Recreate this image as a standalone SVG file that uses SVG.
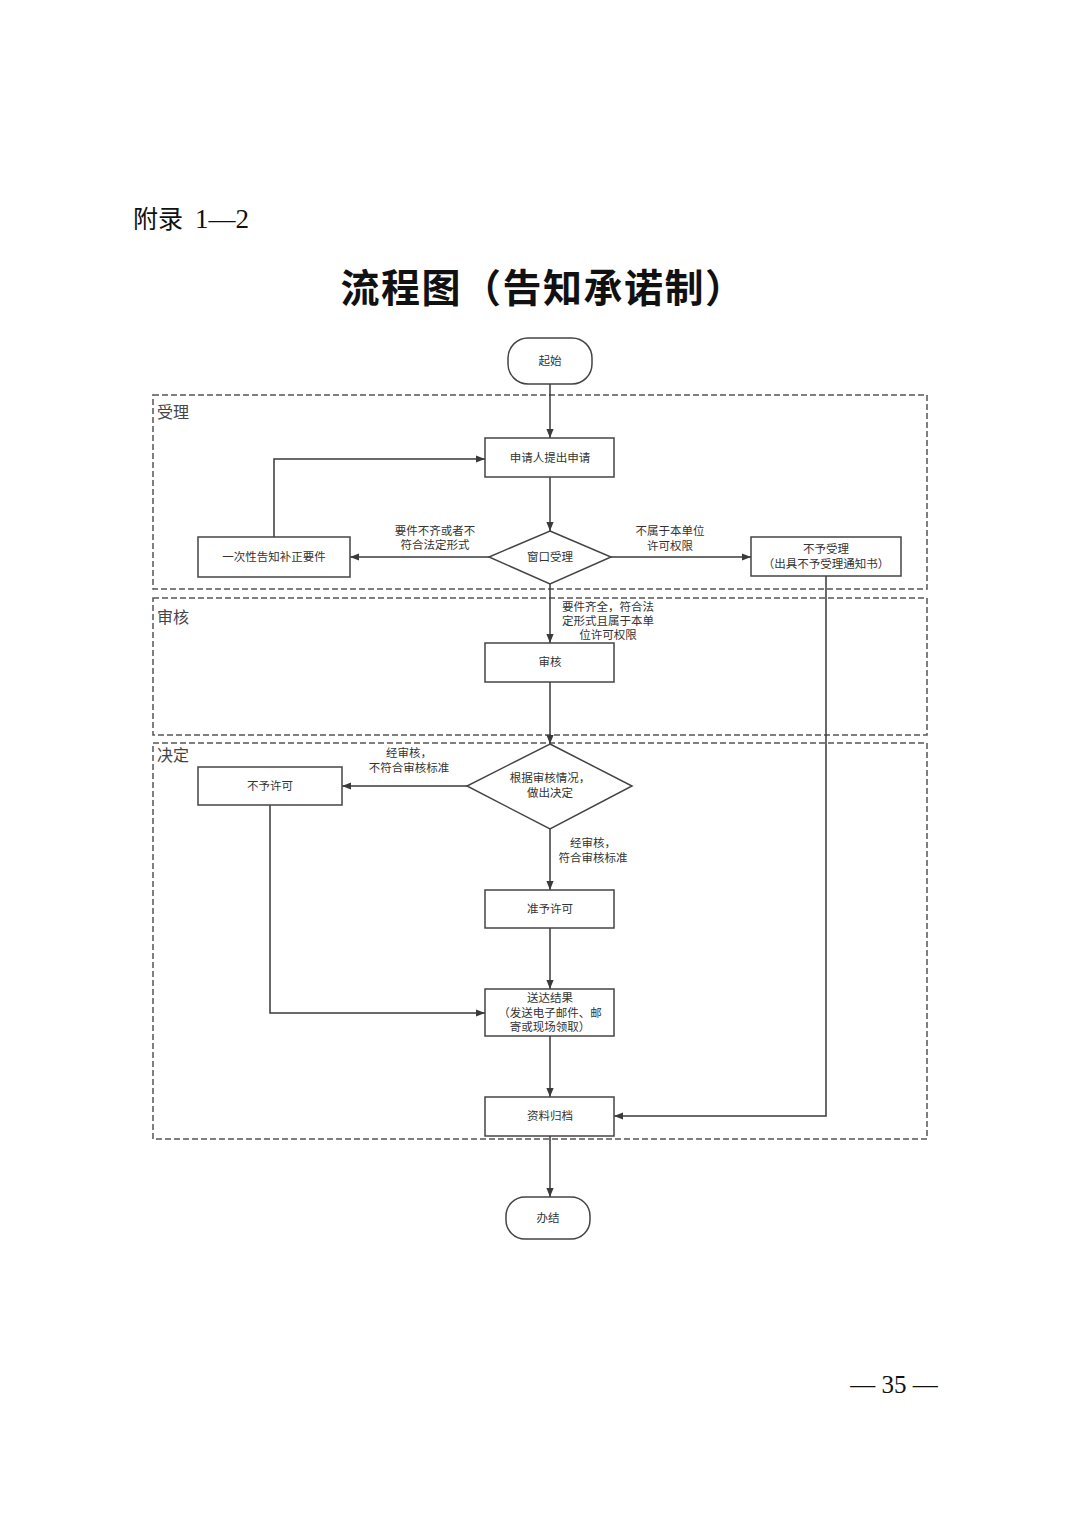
<svg xmlns="http://www.w3.org/2000/svg" width="1074" height="1520" viewBox="0 0 1074 1520">
<defs>
<marker id="arr" viewBox="0 0 10 10" refX="10" refY="5" markerWidth="9" markerHeight="9" markerUnits="userSpaceOnUse" orient="auto">
<path d="M0,1 L10,5 L0,9 z" fill="#3a3a3a"/>
</marker>
<style>
.lane{fill:none;stroke:#555;stroke-width:1.5;stroke-dasharray:6 3}
.lanet{font-family:"Noto Sans CJK SC",sans-serif;font-size:16px;fill:#444}
.box{fill:#fff;stroke:#444;stroke-width:1.5}
.t{font-family:"Noto Sans CJK SC",sans-serif;font-size:11.5px;fill:#333;text-anchor:middle}
.c{fill:none;stroke:#3a3a3a;stroke-width:1.5}
</style>
</defs>
<rect width="1074" height="1520" fill="#fff"/>
<text x="133" y="228" font-family="Noto Sans CJK SC,sans-serif" font-size="25" fill="#111">附录<tspan x="195" font-family="Liberation Serif,serif" font-size="27">1—2</tspan></text>
<text x="543" y="302" font-family="Noto Sans CJK SC,sans-serif" font-size="39" font-weight="bold" fill="#111" text-anchor="middle" letter-spacing="1.5">流程图（告知承诺制）</text>

<g id="lanes">
<rect class="lane" x="153" y="395" width="774" height="194"/>
<text class="lanet" x="157" y="418">受理</text>
<rect class="lane" x="153" y="598" width="774" height="137"/>
<text class="lanet" x="157" y="623">审核</text>
<rect class="lane" x="153" y="743" width="774" height="396"/>
<text class="lanet" x="157" y="761">决定</text>
</g>

<g id="connectors">
<path class="c" d="M550,384 V438" marker-end="url(#arr)"/>
<path class="c" d="M550,477 V531" marker-end="url(#arr)"/>
<path class="c" d="M489,557 H350" marker-end="url(#arr)"/>
<path class="c" d="M274,537 V459 H485" marker-end="url(#arr)"/>
<path class="c" d="M611,557 H751" marker-end="url(#arr)"/>
<path class="c" d="M826,576 V1116 H614" marker-end="url(#arr)"/>
<path class="c" d="M550,584 V643" marker-end="url(#arr)"/>
<path class="c" d="M550,682 V744" marker-end="url(#arr)"/>
<path class="c" d="M467,786 H342" marker-end="url(#arr)"/>
<path class="c" d="M270,805 V1013 H485" marker-end="url(#arr)"/>
<path class="c" d="M550,829 V890" marker-end="url(#arr)"/>
<path class="c" d="M550,928 V989" marker-end="url(#arr)"/>
<path class="c" d="M550,1036 V1097" marker-end="url(#arr)"/>
<path class="c" d="M550,1136 V1197" marker-end="url(#arr)"/>
<text class="t" x="435" y="535">要件不齐或者不</text>
<text class="t" x="435" y="549">符合法定形式</text>
<text class="t" x="670" y="535">不属于本单位</text>
<text class="t" x="670" y="550">许可权限</text>
<text class="t" x="608" y="611">要件齐全，符合法</text>
<text class="t" x="608" y="625">定形式且属于本单</text>
<text class="t" x="608" y="639">位许可权限</text>
<text class="t" x="409" y="757">经审核，</text>
<text class="t" x="409" y="772">不符合审核标准</text>
<text class="t" x="593" y="847">经审核，</text>
<text class="t" x="593" y="862">符合审核标准</text>
</g>

<g id="start">
<rect class="box" x="508" y="338" width="84" height="46" rx="20"/>
<text class="t" x="550" y="365">起始</text>
</g>
<g id="apply">
<rect class="box" x="485" y="438" width="129" height="39"/>
<text class="t" x="550" y="462">申请人提出申请</text>
</g>
<g id="window">
<path class="box" d="M550,531 L611,557 L550,584 L489,557 Z"/>
<text class="t" x="550" y="561">窗口受理</text>
</g>
<g id="supplement">
<rect class="box" x="198" y="537" width="152" height="40"/>
<text class="t" x="274" y="561">一次性告知补正要件</text>
</g>
<g id="reject">
<rect class="box" x="751" y="537" width="150" height="39"/>
<text class="t" x="826" y="553">不予受理</text>
<text class="t" x="826" y="568">（出具不予受理通知书）</text>
</g>
<g id="review">
<rect class="box" x="485" y="643" width="129" height="39"/>
<text class="t" x="550" y="666">审核</text>
</g>
<g id="decide">
<path class="box" d="M550,744 L632,786 L550,829 L467,786 Z"/>
<text class="t" x="550" y="782">根据审核情况，</text>
<text class="t" x="550" y="797">做出决定</text>
</g>
<g id="deny">
<rect class="box" x="198" y="767" width="144" height="38"/>
<text class="t" x="270" y="790">不予许可</text>
</g>
<g id="grant">
<rect class="box" x="485" y="890" width="129" height="38"/>
<text class="t" x="550" y="913">准予许可</text>
</g>
<g id="deliver">
<rect class="box" x="485" y="989" width="129" height="47"/>
<text class="t" x="550" y="1002">送达结果</text>
<text class="t" x="550" y="1017">（发送电子邮件、邮</text>
<text class="t" x="550" y="1031">寄或现场领取）</text>
</g>
<g id="archive">
<rect class="box" x="485" y="1097" width="129" height="39"/>
<text class="t" x="550" y="1120">资料归档</text>
</g>
<g id="end">
<rect class="box" x="506" y="1197" width="84" height="42" rx="19"/>
<text class="t" x="548" y="1222">办结</text>
</g>
<text x="894" y="1393" font-family="Liberation Serif,serif" font-size="25" fill="#111" text-anchor="middle">— 35 —</text>
</svg>
